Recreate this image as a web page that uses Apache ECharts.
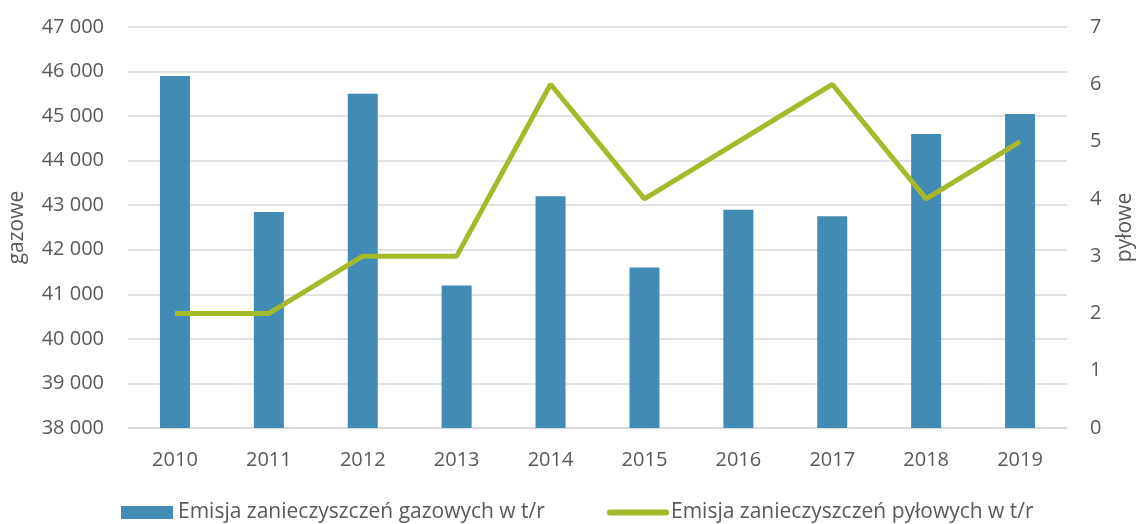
<!DOCTYPE html>
<html>
<head>
<meta charset="utf-8">
<script src="https://cdn.jsdelivr.net/npm/echarts@6/dist/echarts.min.js"></script>
<style>
  html, body { margin: 0; padding: 0; background: #fff; }
  #chart { width: 1141px; height: 524px; }
</style>
</head>
<body>
<div id="chart"></div>
<script>
let years = ['2010', '2011', '2012', '2013', '2014', '2015', '2016', '2017', '2018', '2019']
let gazowe = [45900, 42850, 45500, 41200, 43200, 41600, 42900, 42750, 44600, 45050]
let pylowe = [2, 2, 3, 3, 6, 4, 5, 6, 4, 5]

let nameBar = 'Emisja zanieczyszczeń gazowych w t/r'
let nameLine = 'Emisja zanieczyszczeń pyłowych w t/r'

let txt = '#595959'
let font = 'Open Sans'
let blue = '#428bb4'
let green = '#a5b92a'

// 47000 -> "47 000"
function spaced(v) {
  return String(v).replace(/\B(?=(\d{3})+(?!\d))/g, ' ')
}

let legendText = { color: txt, fontSize: 21, fontFamily: font }

let myChart = echarts.init(document.getElementById('chart'))

myChart.setOption({
  animation: false,
  textStyle: { fontFamily: font },
  grid: { left: 128, right: 74, top: 27, bottom: 96, outerBoundsMode: 'none' },
  legend: [
    {
      top: 497,
      left: 116,
      itemWidth: 52,
      itemHeight: 13,
      textStyle: legendText,
      data: [{ name: nameBar, icon: 'rect' }]
    },
    {
      top: 497,
      left: 602,
      itemWidth: 56,
      itemHeight: 13,
      textStyle: legendText,
      data: [{
        name: nameLine,
        itemStyle: { opacity: 0 },
        lineStyle: { width: 6, cap: 'round', color: green }
      }]
    }
  ],
  xAxis: {
    type: 'category',
    data: years,
    axisTick: { show: false },
    axisLine: { lineStyle: { color: '#d9d9d9', width: 1.5 } },
    axisLabel: { color: txt, fontSize: 20, margin: 22 }
  },
  yAxis: [
    {
      type: 'value',
      min: 38000,
      max: 47000,
      interval: 1000,
      name: 'gazowe',
      nameLocation: 'middle',
      nameRotate: 90,
      nameGap: 100,
      nameTextStyle: { color: txt, fontSize: 21 },
      axisLabel: { color: txt, fontSize: 20, margin: 24, formatter: spaced },
      splitLine: { lineStyle: { color: '#d9d9d9', width: 1.5 } }
    },
    {
      type: 'value',
      min: 0,
      max: 7,
      interval: 1,
      name: 'pyłowe',
      nameLocation: 'middle',
      nameRotate: 90,
      nameGap: 48,
      nameTextStyle: { color: txt, fontSize: 21 },
      axisLabel: { color: txt, fontSize: 20, margin: 23 },
      splitLine: { show: false }
    }
  ],
  series: [
    {
      name: nameBar,
      type: 'bar',
      yAxisIndex: 0,
      barWidth: 30,
      data: gazowe,
      itemStyle: { color: blue }
    },
    {
      name: nameLine,
      type: 'line',
      yAxisIndex: 1,
      data: pylowe,
      symbol: 'none',
      lineStyle: { color: green, width: 5 },
      itemStyle: { color: green }
    }
  ]
})
</script>
</body>
</html>
